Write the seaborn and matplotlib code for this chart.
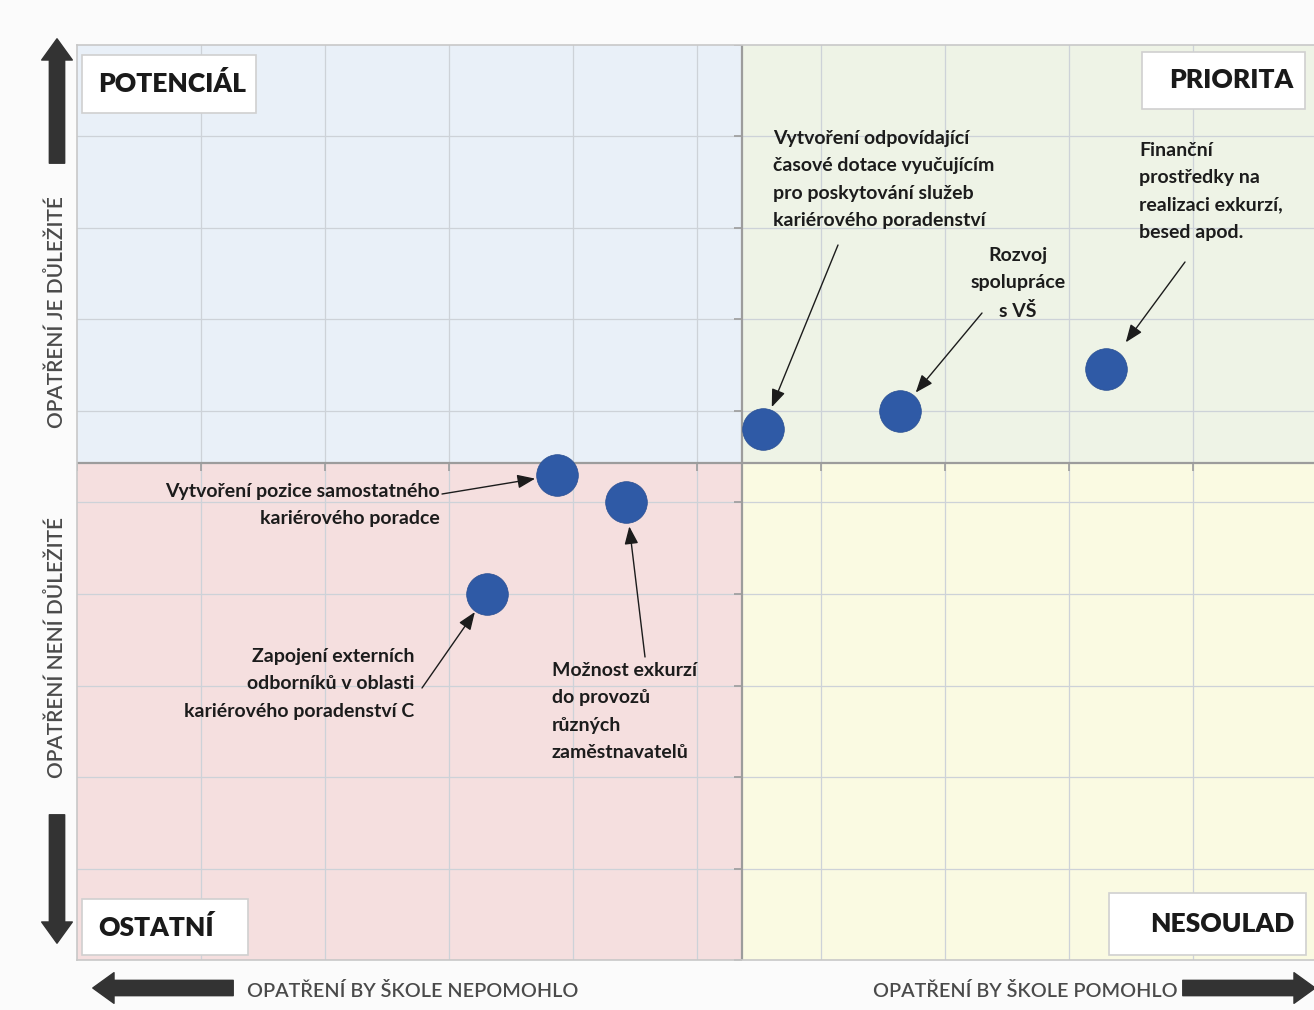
import matplotlib

matplotlib.use("Agg")
import matplotlib.pyplot as plt
from matplotlib.patches import Rectangle

import numpy as np
import pandas as pd
import seaborn as sns

# --- data ---
measures = [
    "Vytvoření odpovídající\nčasové dotace vyučujícím\npro poskytování služeb\nkariérového poradenství",
    "Rozvoj\nspolupráce\ns VŠ",
    "Finanční\nprostředky na\nrealizaci exkurzí,\nbesed apod.",
    "Vytvoření pozice samostatného\nkariérového poradce",
    "Možnost exkurzí\ndo provozů\nrůzných\nzaměstnavatelů",
    "Zapojení externích\nodborníků v oblasti\nkariérového poradenství C",
]
helpfulness = [5.53, 6.64, 8.30, 3.87, 4.43, 3.31]
importance = [5.80, 6.00, 6.46, 5.30, 5.01, 4.00]

x_center = 5.36
y_center = 5.43
x_max = 9.976
y_max = 10.0

quadrant_names = ["POTENCIÁL", "PRIORITA", "OSTATNÍ", "NESOULAD"]
y_labels = ["OPATŘENÍ JE DŮLEŽITÉ", "OPATŘENÍ NENÍ DŮLEŽITÉ"]
x_labels = ["OPATŘENÍ BY ŠKOLE NEPOMOHLO", "OPATŘENÍ BY ŠKOLE POMOHLO"]

df = pd.DataFrame({"measure": measures, "help": helpfulness, "imp": importance})

sns.set_theme(style="white")
plt.rcParams["font.family"] = ["Lato", "DejaVu Sans"]

W, H = 1314, 1010
fig = plt.figure(figsize=(W / 100, H / 100), dpi=100, facecolor="#fbfbfb")
L, R, T, B = 77, 1314, 45, 960
ax = fig.add_axes([L / W, 1 - B / H, (R - L) / W, (B - T) / H])
ax.set_xlim(0, x_max)
ax.set_ylim(0, y_max)


def px(x, y):
    """pixel position in the picture -> data coords"""
    return (x - L) / (R - L) * x_max, (B - y) / (B - T) * y_max


# quadrant backgrounds
yc_frac = y_center / y_max
ax.axvspan(0, x_center, ymin=yc_frac, ymax=1, color="#e9f0f8", zorder=0, lw=0)
ax.axvspan(x_center, x_max, ymin=yc_frac, ymax=1, color="#eef3e6", zorder=0, lw=0)
ax.axvspan(0, x_center, ymin=0, ymax=yc_frac, color="#f5dfdf", zorder=0, lw=0)
ax.axvspan(x_center, x_max, ymin=0, ymax=yc_frac, color="#fafae2", zorder=0, lw=0)

# grid
grid_x = np.arange(0, 10)
grid_y = np.arange(0, 11)
for gx in grid_x[1:]:
    ax.axvline(gx, color="#cdd2d8", lw=0.9, zorder=1)
for gy in grid_y[1:-1]:
    ax.axhline(gy, color="#cdd2d8", lw=0.9, zorder=1)

# center axes with little ticks
ax.axvline(x_center, color="#9c9c9c", lw=1.6, zorder=2)
ax.axhline(y_center, color="#9c9c9c", lw=1.6, zorder=2)
ax.plot(np.full(len(grid_y), x_center), grid_y, ls="none", marker=0,
        ms=6, mew=1.2, color="#9c9c9c", zorder=2)
ax.plot(grid_x, np.full(len(grid_x), y_center), ls="none", marker=3,
        ms=6, mew=1.2, color="#9c9c9c", zorder=2)

ax.set_xticks([])
ax.set_yticks([])
ax.set_xlabel("")
ax.set_ylabel("")
for s in ["top", "left", "bottom"]:
    ax.spines[s].set_color("#c8c8c8")
    ax.spines[s].set_linewidth(1.2)
ax.spines["right"].set_visible(False)

sns.scatterplot(data=df, x="help", y="imp", s=900, color="#2f5aa6",
                edgecolor="#2a4f92", linewidth=0.5, ax=ax, zorder=5, legend=False)

# labels and arrows (text pixel pos, arrow start pixel pos, shrink px)
label_layout = [
    ((773, 130), "left", (838, 245), 24),
    ((1018, 247), "center", (982, 313), 24),
    ((1139, 142), "left", (1185, 262), 33),
    ((440, 483), "right", (442, 494), 22),
    ((552, 662), "left", (645, 657), 25),
    ((414, 648), "right", (422, 688), 22),
]
for (name, xv, yv), (tpos, ha, apos, shrink) in zip(
        zip(df["measure"], df["help"], df["imp"]), label_layout):
    tx, ty = px(*tpos)
    ax.text(tx, ty, name, ha=ha, va="top", ma=ha, fontsize=14, fontweight="bold",
            color="#1c1c1c", linespacing=1.74, zorder=6)
    ax_, ay_ = px(*apos)
    ax.annotate("", xy=(xv, yv), xytext=(ax_, ay_),
                arrowprops=dict(arrowstyle="-|>,head_length=0.9,head_width=0.35",
                                color="#1c1c1c", lw=1.0, shrinkA=0,
                                shrinkB=shrink * 0.72),
                zorder=6)

# quadrant name boxes (left, top, right, bottom in px), text alignment
boxes = [
    ((82, 55, 256, 113), "left"),
    ((1142, 52, 1305, 109), "right"),
    ((82, 899, 248, 955), "left"),
    ((1109, 893, 1306, 955), "right"),
]
for qname, ((x0, y0, x1, y1), ha) in zip(quadrant_names, boxes):
    bx0, by1 = px(x0, y1)
    bx1, by0 = px(x1, y0)
    ax.add_patch(Rectangle((bx0, by1), bx1 - bx0, by0 - by1, facecolor="white",
                           edgecolor="#d0d0d0", lw=1.2, zorder=7))
    tx = px(x0 + 16, 0)[0] if ha == "left" else px(x1 - 12, 0)[0]
    ax.text(tx, (by0 + by1) / 2, qname, ha=ha, va="center", fontsize=19,
            fontweight="heavy", color="#1a1a1a", zorder=8)

# side captions and big arrows (figure pixels)
big = dict(arrowstyle="simple,head_length=0.9,head_width=1.3,tail_width=0.65",
           color="#333333", mutation_scale=17)
fig.text(57 / W, 1 - 312 / H, y_labels[0], rotation=90, ha="center", va="center",
         fontsize=15, fontweight="semibold", color="#4a4a4a")
fig.text(57 / W, 1 - 647 / H, y_labels[1], rotation=90, ha="center", va="center",
         fontsize=15, fontweight="semibold", color="#4a4a4a")
ax.annotate("", xy=(57, H - 36), xytext=(57, H - 166), xycoords="figure pixels",
            textcoords="figure pixels", arrowprops=big, annotation_clip=False)
ax.annotate("", xy=(57, H - 946), xytext=(57, H - 812), xycoords="figure pixels",
            textcoords="figure pixels", arrowprops=big, annotation_clip=False)

fig.text(247 / W, 1 - 991 / H, x_labels[0], ha="left", va="center",
         fontsize=14.2, fontweight="semibold", color="#4a4a4a")
fig.text(1178 / W, 1 - 991 / H, x_labels[1], ha="right", va="center",
         fontsize=14.2, fontweight="semibold", color="#4a4a4a")
ax.annotate("", xy=(90, H - 988), xytext=(236, H - 988), xycoords="figure pixels",
            textcoords="figure pixels", arrowprops=big, annotation_clip=False)
ax.annotate("", xy=(1318, H - 988), xytext=(1180, H - 988), xycoords="figure pixels",
            textcoords="figure pixels", arrowprops=big, annotation_clip=False)

fig.savefig("out.png", dpi=100, facecolor=fig.get_facecolor())
plt.close(fig)
